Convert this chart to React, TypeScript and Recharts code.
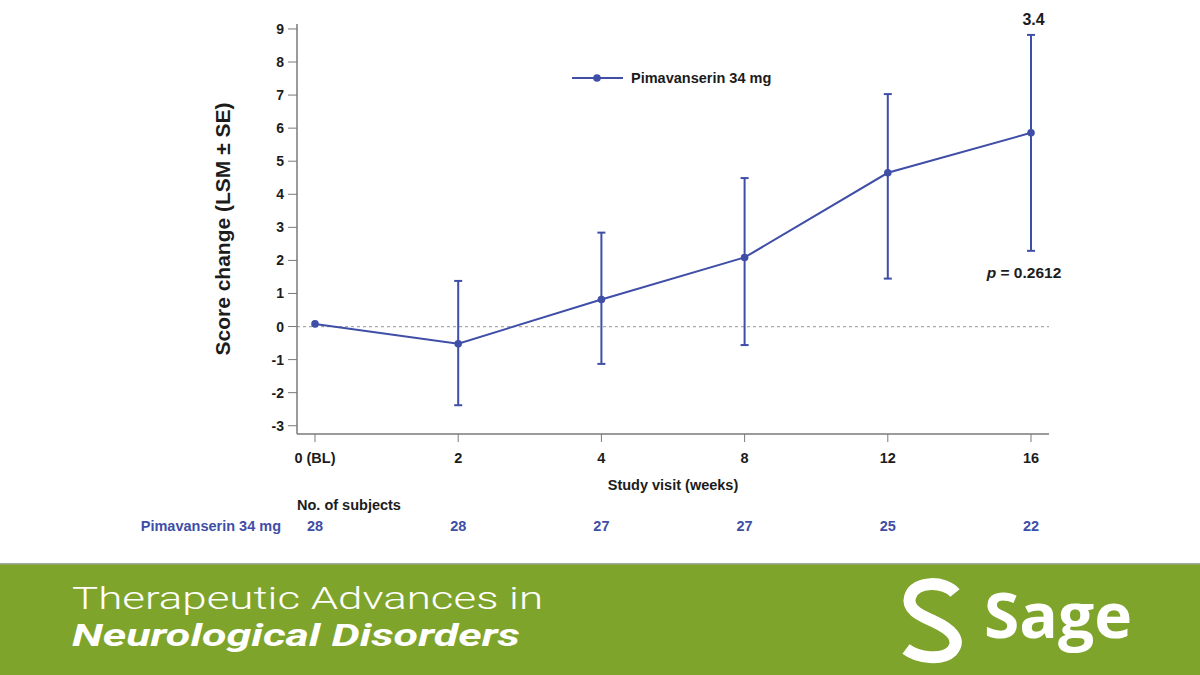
import React from 'react';
import {
  LineChart, Line, XAxis, YAxis, ErrorBar, ReferenceLine, ReferenceDot, Legend,
} from 'recharts';

// ---- data ----
const weeks = ['0 (BL)', '2', '4', '8', '12', '16'];
const lsm = [0.08, -0.52, 0.82, 2.09, 4.65, 5.86];
const seUp = [null, 1.9, 2.02, 2.4, 2.38, 2.96];
const seDown = [null, 1.86, 1.95, 2.65, 3.2, 3.57];
const subjects = [28, 28, 27, 27, 25, 22];
const yTicks = [-3, -2, -1, 0, 1, 2, 3, 4, 5, 6, 7, 8, 9];
const seriesName = 'Pimavanserin 34 mg';
const topAnnotation = '3.4';
const pAnnotation = '0.2612';

const data = weeks.map((w, i) => ({
  week: w,
  lsm: lsm[i],
  err: seUp[i] == null ? null : [seDown[i], seUp[i]],
}));

const lastIdx = weeks.length - 1;
const lastTop = lsm[lastIdx] + (seUp[lastIdx] as number);
const lastBottom = lsm[lastIdx] - (seDown[lastIdx] as number);

const BLUE = '#3F4EA6';
const DARK = '#1c1c1c';
const AXIS = '#7a7a7a';
const GREEN = '#7FA42C';
const FONT = '"Liberation Sans", Arial, Helvetica, sans-serif';

const XTick = (props: any) => {
  const { x, y, payload } = props;
  const idx = payload && payload.index != null ? payload.index : props.index;
  return (
    <g>
      <text x={x} y={y + 21} textAnchor="middle" fontSize={14.5} fontWeight={700} fill={DARK} fontFamily={FONT}>
        {payload.value}
      </text>
      <text x={x} y={y + 89} textAnchor="middle" fontSize={14.5} fontWeight={700} fill={BLUE} fontFamily={FONT}>
        {subjects[idx]}
      </text>
    </g>
  );
};

const YLabel = () => {
  const cy = 24 + 205;
  const cx = 229.5;
  return (
    <text
      x={cx}
      y={cy}
      transform={`rotate(-90, ${cx}, ${cy})`}
      textAnchor="middle"
      fontSize={21}
      fontWeight={700}
      fill={DARK}
      fontFamily={FONT}
    >
      Score change (LSM ± SE)
    </text>
  );
};

const XLabel = (props: any) => {
  const vb = props.viewBox || { x: 297, width: 752, y: 434 };
  return (
    <g>
      <text x={vb.x + vb.width / 2} y={489.5} textAnchor="middle" fontSize={14.5} fontWeight={700} fill={DARK} fontFamily={FONT}>
        Study visit (weeks)
      </text>
      <text x={297} y={510} textAnchor="start" fontSize={14.5} fontWeight={700} fill={DARK} fontFamily={FONT}>
        No. of subjects
      </text>
      <text x={281} y={531} textAnchor="end" fontSize={14.5} fontWeight={700} fill={BLUE} fontFamily={FONT}>
        {seriesName}
      </text>
    </g>
  );
};

const TopLabel = (props: any) => {
  const vb = props.viewBox || {};
  const cx = vb.x + (vb.width || 0) / 2;
  const cy = vb.y + (vb.height || 0) / 2;
  return (
    <text x={cx + 2.5} y={cy - 10} textAnchor="middle" fontSize={16} fontWeight={700} fill={DARK} fontFamily={FONT}>
      {topAnnotation}
    </text>
  );
};

const PLabel = (props: any) => {
  const vb = props.viewBox || {};
  const cx = vb.x + (vb.width || 0) / 2;
  const cy = vb.y + (vb.height || 0) / 2;
  return (
    <text x={cx - 7} y={cy + 27} textAnchor="middle" fontSize={15.5} fontWeight={700} fill={DARK} fontFamily={FONT}>
      <tspan fontStyle="italic">p</tspan>
      <tspan> = {pAnnotation}</tspan>
    </text>
  );
};

const LegendContent = () => (
  <div style={{ display: 'flex', alignItems: 'center', fontFamily: FONT }}>
    <svg width={52} height={20}>
      <line x1={0} y1={10} x2={51} y2={10} stroke={BLUE} strokeWidth={2} />
      <circle cx={25} cy={10} r={3.8} fill={BLUE} />
    </svg>
    <span style={{ marginLeft: 7, fontSize: 14.5, fontWeight: 700, color: DARK, whiteSpace: 'nowrap' }}>
      {seriesName}
    </span>
  </div>
);

const Banner = () => (
  <svg width={1200} height={112} style={{ position: 'absolute', left: 0, top: 563 }}>
    <rect x={0} y={0} width={1200} height={112} fill={GREEN} />
    <rect x={0} y={0} width={1200} height={1.5} fill="#a3a79c" />
    <text x={72} y={45.5} fontFamily='Roboto, "Open Sans", sans-serif' fontWeight={300} fontSize={32}
      fill="#ffffff" textLength={471} lengthAdjust="spacingAndGlyphs">
      Therapeutic Advances in
    </text>
    <text x={72} y={82.5} fontFamily='Roboto, "Open Sans", sans-serif' fontWeight={700} fontStyle="italic" fontSize={31}
      fill="#ffffff" textLength={448} lengthAdjust="spacingAndGlyphs">
      Neurological Disorders
    </text>
    <path d="M 955 30 C 945 18, 915 17, 910 34 C 906 48, 925 54, 935 59 C 950 66, 962 76, 952 88 C 942 98, 918 95, 906 86"
      fill="none" stroke="#ffffff" strokeWidth={12} strokeLinecap="butt" />
    <text x={984} y={75} fontFamily='"Open Sans", "Noto Sans", sans-serif' fontWeight={700} fontSize={62}
      fill="#ffffff" textLength={148} lengthAdjust="spacingAndGlyphs">
      Sage
    </text>
  </svg>
);

export default function App() {
  return (
    <div style={{ position: 'absolute', left: 0, top: 0, width: 1200, height: 675, background: '#ffffff', fontFamily: FONT, overflow: 'hidden' }}>
      <LineChart width={1200} height={560} data={data} margin={{ top: 24, right: 151, left: 0, bottom: 96 }}>
        <XAxis
          dataKey="week"
          type="category"
          scale="point"
          padding={{ left: 18, right: 18 }}
          height={30}
          stroke={AXIS}
          tickLine={{ stroke: AXIS }}
          axisLine={{ stroke: AXIS, strokeWidth: 1.5 }}
          tickSize={8}
          tickMargin={0}
          tick={<XTick />}
          interval={0}
          label={<XLabel />}
        />
        <YAxis
          type="number"
          domain={[-3.25, 9.15]}
          ticks={yTicks}
          allowDataOverflow
          width={297}
          stroke={AXIS}
          axisLine={{ stroke: AXIS, strokeWidth: 1.5 }}
          tickLine={{ stroke: AXIS }}
          tickSize={9}
          tickMargin={4}
          tick={{ fontSize: 14, fontWeight: 700, fill: DARK, fontFamily: FONT }}
          label={<YLabel />}
        />
        <ReferenceLine y={0} stroke="#aaaaaa" strokeDasharray="3 3" strokeWidth={1.2} />
        <Legend
          layout="horizontal"
          verticalAlign="middle"
          align="center"
          content={<LegendContent />}
          wrapperStyle={{ position: 'absolute', left: 572, top: 68, width: 'auto', height: 'auto' }}
        />
        <Line
          dataKey="lsm"
          name={seriesName}
          stroke={BLUE}
          strokeWidth={2}
          dot={{ r: 3.8, fill: BLUE, stroke: BLUE, strokeWidth: 0 }}
          activeDot={false}
          isAnimationActive={false}
        >
          <ErrorBar dataKey="err" direction="y" width={4} stroke={BLUE} strokeWidth={2} isAnimationActive={false} />
        </Line>
        <ReferenceDot x={weeks[lastIdx]} y={lastTop} r={1} fill="none" stroke="none" label={<TopLabel />} />
        <ReferenceDot x={weeks[lastIdx]} y={lastBottom} r={1} fill="none" stroke="none" label={<PLabel />} />
      </LineChart>
      <Banner />
    </div>
  );
}
